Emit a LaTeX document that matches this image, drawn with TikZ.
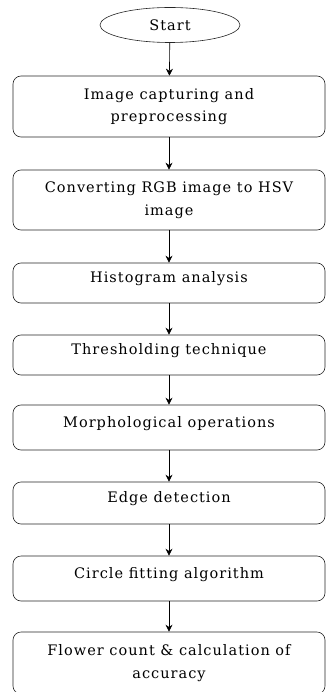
\documentclass[tikz,border=0pt]{standalone}
\usepackage{fontspec}
\newfontfamily\boxfont[LetterSpace=7]{DejaVu Serif}
\usetikzlibrary{shapes.geometric,arrows.meta}
\begin{document}
\begin{tikzpicture}[x=1pt,y=-1pt,>={Stealth[length=7pt,width=7pt]},semithick,
	every node/.style={font=\boxfont\fontsize{14.5}{22.5}\selectfont},
	stepbox/.style={draw=black!85,rounded corners=8pt,minimum width=312pt,align=center,inner sep=0pt},
	onerow/.style={text depth=12pt},
	startnode/.style={draw=black!85,ellipse,minimum width=140pt,minimum height=35pt,inner sep=0pt}]
	\useasboundingbox (0,0) rectangle (326,692);
	\node[startnode] (n0) at (170,25) 	{Start};
	\node[stepbox,minimum height=61pt] (n1) at (169,106.5) 	{Image capturing and\\preprocessing};
	\node[stepbox,minimum height=60pt] (n2) at (169,200) 	{Converting RGB image to HSV\\image};
	\node[stepbox,onerow,minimum height=40pt] (n3) at (169,283) 	{Histogram analysis};
	\node[stepbox,onerow,minimum height=40pt] (n4) at (169,355) 	{Thresholding technique};
	\node[stepbox,onerow,minimum height=45pt] (n5) at (169,427.5) 	{Morphological operations};
	\node[stepbox,onerow,minimum height=42pt] (n6) at (169,503) 	{Edge detection};
	\node[stepbox,onerow,minimum height=45pt] (n7) at (169,578.5) 	{Circle fitting algorithm};
	\node[stepbox,minimum height=62pt] (n8) at (169,663) 	{Flower count \& calculation of\\accuracy};
	\draw[->] (n0) -- (n1);
	\draw[->] (n1) -- (n2);
	\draw[->] (n2) -- (n3);
	\draw[->] (n3) -- (n4);
	\draw[->] (n4) -- (n5);
	\draw[->] (n5) -- (n6);
	\draw[->] (n6) -- (n7);
	\draw[->] (n7) -- (n8);
\end{tikzpicture}
\end{document}
